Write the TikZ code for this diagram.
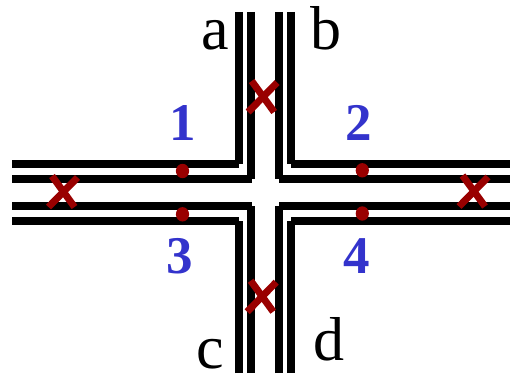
\documentclass[tikz,border=0pt]{standalone}
\usepackage{fontspec}
\setmainfont{Liberation Serif}
\definecolor{xred}{RGB}{153,0,0}
\definecolor{numblue}{RGB}{51,51,204}
\tikzset{
  wire/.style={draw=black,line width=8pt,line join=miter,line cap=butt},
  cutout/.style={fill=white,draw=none},
  cross/.style={draw=xred,line width=7pt,line cap=butt},
  dot/.style={fill=xred,draw=none},
  portlabel/.style={inner sep=0pt,anchor=base,text=black,font=\fontsize{62}{62}\selectfont},
  numlabel/.style={inner sep=0pt,anchor=base,text=numblue,font=\fontsize{53}{53}\selectfont\bfseries}
}
\newcommand{\xmark}[2]{%
  \draw[cross,shift={(#1,#2)}] (-11,-16) -- (11.5,15);
  \draw[cross,shift={(#1,#2)}] (14.5,-14.5) -- (-14.5,15);
}
\begin{document}
\begin{tikzpicture}[x=1pt,y=-1pt]
\useasboundingbox (0,0) rectangle (510,374);
% outer corners
\draw[wire] (239,12) -- (239,164.3) -- (12,164.3);
\draw[wire] (291,12) -- (291,164.3) -- (510,164.3);
\draw[wire] (239,373) -- (239,220.7) -- (12,220.7);
\draw[wire] (291,373) -- (291,220.7) -- (510,220.7);
% inner corners
\draw[wire] (251.3,12) -- (251.3,179) -- (12,179);
\draw[wire] (278.8,12) -- (278.8,179) -- (510,179);
\draw[wire] (251.3,373) -- (251.3,206.2) -- (12,206.2);
\draw[wire] (278.8,373) -- (278.8,206.2) -- (510,206.2);
% junction cut-outs
\fill[cutout] (251.7,179.3) rectangle (279,206);
\fill[cutout] (239,164.3) rectangle (243.2,168.4);
\fill[cutout] (286.9,164.3) rectangle (291,168.4);
\fill[cutout] (239,216.7) rectangle (243.2,220.7);
\fill[cutout] (286.9,216.7) rectangle (291,220.7);
% dots
\fill[dot] (182.5,171) ellipse [x radius=6.6,y radius=7.2];
\fill[dot] (362.3,170.3) ellipse [x radius=6.6,y radius=7.2];
\fill[dot] (182.5,214.3) ellipse [x radius=6.6,y radius=7.2];
\fill[dot] (362.3,213.5) ellipse [x radius=6.6,y radius=7.2];
% crosses
\xmark{63}{192}
\xmark{473.5}{191.5}
\xmark{262.7}{97}
\xmark{261.7}{296.7}
% labels
\node[portlabel] (a) at (215,50) {a};
\node[portlabel] (b) at (326,50) {b};
\node[portlabel] (c) at (210.5,368) {c};
\node[portlabel] (d) at (329,360) {d};
\node[numlabel] (n1) at (182.5,140) {1};
\node[numlabel] (n2) at (359,140) {2};
\node[numlabel] (n3) at (180,273.5) {3};
\node[numlabel] (n4) at (356.5,273) {4};
\end{tikzpicture}
\end{document}
